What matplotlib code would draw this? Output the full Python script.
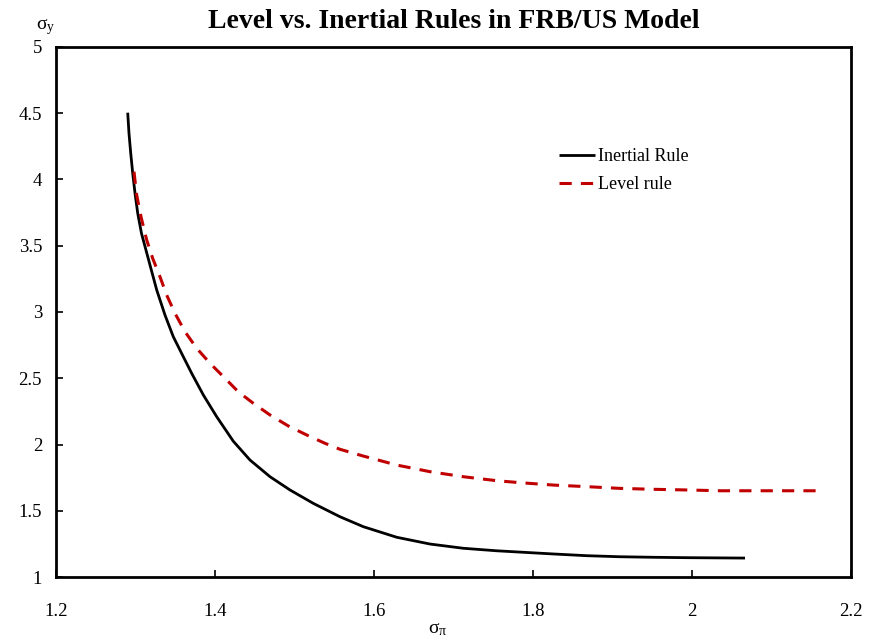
import matplotlib.pyplot as plt
import numpy as np

plt.rcParams['font.family'] = ['Liberation Serif', 'DejaVu Serif']
plt.rcParams['mathtext.fontset'] = 'custom'
plt.rcParams['mathtext.rm'] = 'Liberation Serif'
plt.rcParams['mathtext.it'] = 'Liberation Serif:italic'

# values
inertial_x = [1.2902, 1.2918, 1.2940, 1.2965, 1.2994, 1.3028, 1.3075, 1.3182, 1.3267,
              1.3371, 1.3475, 1.3601, 1.3707, 1.3853, 1.4021, 1.4230, 1.4440, 1.4692,
              1.4943, 1.5236, 1.5572, 1.5865, 1.6286, 1.6704, 1.7123, 1.7543, 1.8255,
              1.8675, 1.9094, 1.9513, 1.9933, 2.0667]
inertial_y = [4.504, 4.349, 4.198, 4.047, 3.896, 3.745, 3.594, 3.355, 3.166,
              2.977, 2.814, 2.663, 2.537, 2.374, 2.210, 2.025, 1.883, 1.757,
              1.657, 1.556, 1.455, 1.380, 1.300, 1.249, 1.217, 1.198, 1.174,
              1.161, 1.153, 1.149, 1.146, 1.143]

level_x = [1.2981, 1.3015, 1.3069, 1.3141, 1.3216, 1.3308, 1.3392, 1.3497, 1.3623,
           1.3770, 1.3937, 1.4126, 1.4293, 1.4482, 1.4692, 1.4922, 1.5153, 1.5384,
           1.5572, 1.5865, 1.6286, 1.6704, 1.7123, 1.7543, 1.7836, 1.8255, 1.8675,
           1.9094, 1.9513, 1.9933, 2.0352, 2.1560]
level_y = [4.059, 3.883, 3.719, 3.543, 3.405, 3.266, 3.128, 2.990, 2.851,
           2.726, 2.613, 2.500, 2.398, 2.311, 2.223, 2.140, 2.072, 2.009,
           1.964, 1.913, 1.845, 1.795, 1.757, 1.727, 1.712, 1.694, 1.682,
           1.669, 1.662, 1.657, 1.651, 1.651]

x_ticks = [1.2, 1.4, 1.6, 1.8, 2.0, 2.2]
x_labels = ['1.2', '1.4', '1.6', '1.8', '2', '2.2']
y_ticks = [1, 1.5, 2, 2.5, 3, 3.5, 4, 4.5, 5]
y_labels = ['1', '1.5', '2', '2.5', '3', '3.5', '4', '4.5', '5']

fig = plt.figure(figsize=(8.71, 6.4), dpi=100)
ax = fig.add_axes([0.0643, 0.0984, 0.9127, 0.8282])

ax.plot(inertial_x, inertial_y, color='black', lw=2.0, label='Inertial Rule',
        solid_capstyle='butt', solid_joinstyle='round')
ax.plot(level_x, level_y, color='#C00000', lw=2.2, dashes=(4, 3), label='Level rule')

ax.set_xlim(1.2, 2.2)
ax.set_ylim(1, 5)
ax.set_xticks(x_ticks)
ax.set_xticklabels(x_labels)
ax.set_yticks(y_ticks)
ax.set_yticklabels(y_labels)
ax.tick_params(direction='in', length=5, width=1.2, labelsize=13.5, pad=10)
ax.tick_params(axis='x', pad=19)
for s in ax.spines.values():
    s.set_linewidth(2.0)

ax.set_title('Level vs. Inertial Rules in FRB/US Model', fontsize=20,
             fontweight='bold', pad=14)
fig.text(0.052, 0.975, r'$\mathrm{\sigma}_{\mathrm{y}}$', fontsize=14, ha='center', va='top')
fig.text(0.502, 0.003, r'$\mathrm{\sigma}_{\mathrm{\pi}}$', fontsize=14, ha='center', va='bottom')

ax.legend(loc='upper left', bbox_to_anchor=(0.612, 0.84), frameon=False,
          fontsize=13, handlelength=2.0, handletextpad=0.15, labelspacing=0.6)

fig.savefig('out.png', dpi=100)
